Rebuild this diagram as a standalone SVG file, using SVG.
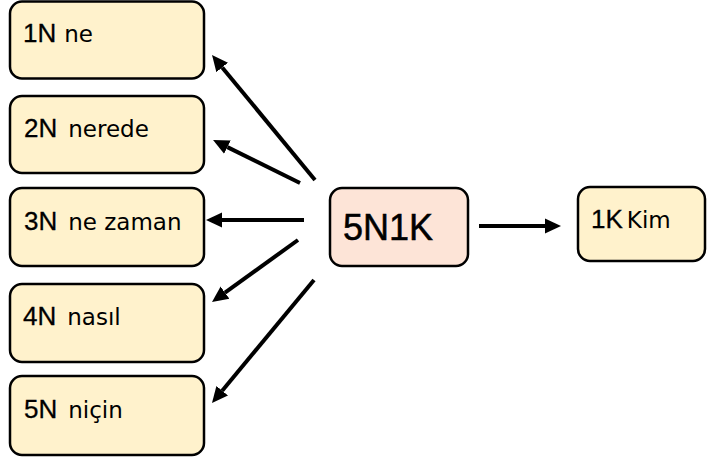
<svg xmlns="http://www.w3.org/2000/svg" width="707" height="464" viewBox="0 0 707 464">
<style>
.box{fill:#fff2cc;stroke:#000;stroke-width:2.5}
.main{fill:#fde4d7;stroke:#000;stroke-width:2.5}
.p{font-family:"Liberation Sans",Arial,sans-serif;font-size:26px;fill:#000;stroke:#000;stroke-width:0.3}
.s{font-family:"DejaVu Sans",sans-serif;font-size:23px;fill:#000}
.big{font-family:"Liberation Sans",Arial,sans-serif;font-size:36px;fill:#000;stroke:#000;stroke-width:0.5}
.c{stroke:#000;stroke-width:4;fill:none;marker-end:url(#ah)}
</style>
<defs>
<marker id="ah" markerUnits="userSpaceOnUse" markerWidth="18" markerHeight="18" viewBox="0 -9 18 18" refX="0" refY="0" orient="auto">
<path d="M0,-7.5 L16,0 L0,7.5 z" fill="#000"/>
</marker>
</defs>
<g id="connectors">
<line class="c" x1="315" y1="180" x2="222.2" y2="67.4"/>
<line class="c" x1="300" y1="183" x2="227.4" y2="147.1"/>
<line class="c" x1="304" y1="220" x2="222" y2="220"/>
<line class="c" x1="298" y1="240" x2="225" y2="292.6"/>
<line class="c" x1="314" y1="280" x2="222.2" y2="390.7"/>
<line class="c" x1="479" y1="226" x2="545" y2="226"/>
</g>
<g id="n1">
<rect class="box" x="10" y="1.5" width="194" height="77" rx="12"/>
<text x="23" y="42"><tspan class="p">1N</tspan><tspan class="s" dx="8">ne</tspan></text>
</g>
<g id="n2">
<rect class="box" x="10" y="96" width="194" height="77" rx="12"/>
<text x="24" y="137"><tspan class="p">2N</tspan><tspan class="s" dx="11">nerede</tspan></text>
</g>
<g id="n3">
<rect class="box" x="10" y="188" width="194" height="78" rx="12"/>
<text x="24" y="230"><tspan class="p">3N</tspan><tspan class="s" dx="11">ne zaman</tspan></text>
</g>
<g id="n4">
<rect class="box" x="10" y="284" width="194" height="78" rx="12"/>
<text x="23" y="325"><tspan class="p">4N</tspan><tspan class="s" dx="11">nasıl</tspan></text>
</g>
<g id="n5">
<rect class="box" x="10" y="376" width="194" height="79" rx="12"/>
<text x="24" y="418"><tspan class="p">5N</tspan><tspan class="s" dx="11">niçin</tspan></text>
</g>
<g id="center">
<rect class="main" x="330" y="188" width="138" height="78" rx="12"/>
<text class="big" x="343" y="240">5N1K</text>
</g>
<g id="k1">
<rect class="box" x="578" y="187" width="127" height="74" rx="12"/>
<text x="591" y="228"><tspan class="p">1K</tspan><tspan class="s" dx="4" font-size="24">Kim</tspan></text>
</g>
</svg>
